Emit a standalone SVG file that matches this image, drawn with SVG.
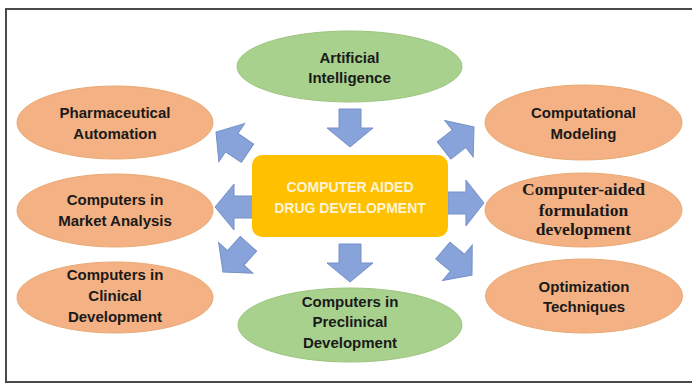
<svg xmlns="http://www.w3.org/2000/svg" xmlns:xlink="http://www.w3.org/1999/xlink" width="692" height="390" viewBox="0 0 692 390">
<style>
.org{fill:#F4B183;stroke:#E9A974;stroke-width:1}
.grn{fill:#A9D18E;stroke:#9CC47F;stroke-width:1}
.t{font-family:"Liberation Sans",Arial,sans-serif;font-weight:bold;font-size:15px;fill:#1a1a1a;text-anchor:middle}
.ts{font-family:"Liberation Serif","Times New Roman",serif;font-weight:bold;font-size:17.5px;fill:#1a1a1a;text-anchor:middle}
.tc{font-family:"Liberation Sans",Arial,sans-serif;font-weight:bold;font-size:14px;fill:#FFF4D6;text-anchor:middle}
.arr{fill:#87A3DA;stroke:#7590C8;stroke-width:1}
</style>
<defs>
<polygon id="arrow" points="0,0 -19,-23 -19,-11 -38,-11 -38,11 -19,11 -19,23"/>
</defs>
<rect x="0" y="0" width="692" height="390" fill="#ffffff"/>
<rect x="6" y="9" width="700" height="373" fill="none" stroke="#4a4a4a" stroke-width="2"/>

<g id="connectors" class="arr">
<use xlink:href="#arrow" href="#arrow" transform="translate(350,147) rotate(90)"/>
<use xlink:href="#arrow" href="#arrow" transform="translate(350,282) rotate(90)"/>
<use xlink:href="#arrow" href="#arrow" transform="translate(215,207) rotate(180)"/>
<use xlink:href="#arrow" href="#arrow" transform="translate(484,203) scale(0.95,1)"/>
<use xlink:href="#arrow" href="#arrow" transform="translate(216,132) rotate(-146)"/>
<use xlink:href="#arrow" href="#arrow" transform="translate(223,272) rotate(132)"/>
<use xlink:href="#arrow" href="#arrow" transform="translate(474,127) rotate(-38)"/>
<use xlink:href="#arrow" href="#arrow" transform="translate(472,275) rotate(40)"/>
</g>

<g id="center">
<rect x="252" y="155" width="196" height="82" rx="10" ry="10" fill="#FFC000"/>
<text class="tc" x="350" y="192">COMPUTER AIDED</text>
<text class="tc" x="350" y="213">DRUG DEVELOPMENT</text>
</g>

<g id="ai">
<ellipse class="grn" cx="349.5" cy="66.5" rx="112.5" ry="35.5"/>
<text class="t" x="349.5" y="63">Artificial</text>
<text class="t" x="349.5" y="83">Intelligence</text>
</g>

<g id="preclinical">
<ellipse class="grn" cx="350" cy="325" rx="112" ry="37"/>
<text class="t" x="350" y="307">Computers in</text>
<text class="t" x="350" y="327">Preclinical</text>
<text class="t" x="350" y="348">Development</text>
</g>

<g id="pharma">
<ellipse class="org" cx="115" cy="122.5" rx="98" ry="36.5"/>
<text class="t" x="115" y="118">Pharmaceutical</text>
<text class="t" x="115" y="139">Automation</text>
</g>

<g id="market">
<ellipse class="org" cx="115" cy="210.5" rx="98" ry="36.5"/>
<text class="t" x="115" y="205">Computers in</text>
<text class="t" x="115" y="226">Market Analysis</text>
</g>

<g id="clinical">
<ellipse class="org" cx="115" cy="297.5" rx="98" ry="35.5"/>
<text class="t" x="115" y="280">Computers in</text>
<text class="t" x="115" y="301">Clinical</text>
<text class="t" x="115" y="322">Development</text>
</g>

<g id="modeling">
<ellipse class="org" cx="583.5" cy="122.5" rx="98.5" ry="37.5"/>
<text class="t" x="583.5" y="118">Computational</text>
<text class="t" x="583.5" y="139">Modeling</text>
</g>

<g id="formulation">
<ellipse class="org" cx="583.5" cy="210" rx="98.5" ry="37"/>
<text class="ts" x="583.5" y="195">Computer-aided</text>
<text class="ts" x="583.5" y="215.5">formulation</text>
<text class="ts" x="583.5" y="235">development</text>
</g>

<g id="optimization">
<ellipse class="org" cx="584" cy="296" rx="98.5" ry="37"/>
<text class="t" x="584" y="292">Optimization</text>
<text class="t" x="584" y="312">Techniques</text>
</g>
</svg>
